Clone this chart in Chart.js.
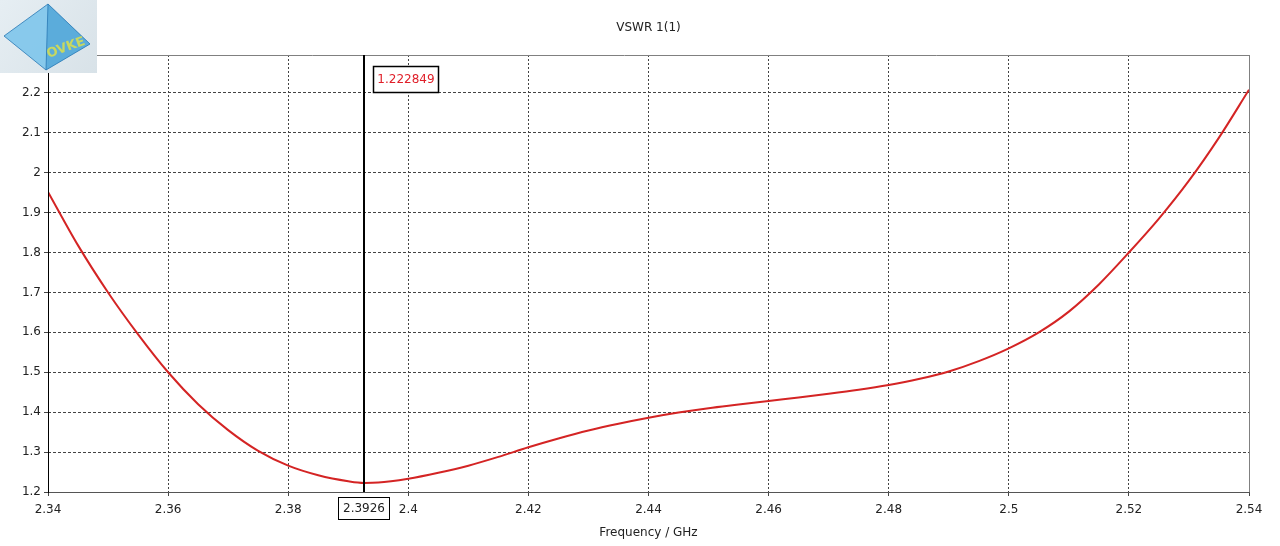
<!DOCTYPE html>
<html>
<head>
<meta charset="utf-8">
<script src="https://cdn.jsdelivr.net/npm/chart.js@4/dist/chart.umd.min.js"></script>
<style>
  html, body { margin: 0; padding: 0; background: #ffffff; }
  #wrap { width: 1280px; height: 546px; }
</style>
</head>
<body>
<div id="wrap"><canvas id="c" width="1280" height="546"></canvas></div>
<script>
// ---- data ----
const titleText = 'VSWR 1(1)';
const xAxisTitle = 'Frequency / GHz';
const freqGHz = [2.34, 2.345, 2.35, 2.355, 2.36, 2.365, 2.37, 2.375, 2.38, 2.385, 2.39, 2.3926, 2.395, 2.40, 2.405, 2.41, 2.415, 2.42, 2.425, 2.43, 2.435, 2.44, 2.445, 2.45, 2.455, 2.46, 2.465, 2.47, 2.475, 2.48, 2.485, 2.49, 2.495, 2.50, 2.505, 2.51, 2.515, 2.52, 2.525, 2.53, 2.535, 2.54];
const vswr = [1.952, 1.818, 1.700, 1.595, 1.500, 1.420, 1.355, 1.303, 1.266, 1.242, 1.227, 1.2228, 1.2235, 1.233, 1.248, 1.266, 1.288, 1.312, 1.334, 1.354, 1.371, 1.386, 1.399, 1.410, 1.419, 1.428, 1.437, 1.446, 1.456, 1.468, 1.483, 1.502, 1.528, 1.560, 1.600, 1.652, 1.720, 1.800, 1.885, 1.980, 2.088, 2.208];
const xTicks = [2.34, 2.36, 2.38, 2.40, 2.42, 2.44, 2.46, 2.48, 2.50, 2.52, 2.54];
const yTicks = [1.2, 1.3, 1.4, 1.5, 1.6, 1.7, 1.8, 1.9, 2.0, 2.1, 2.2];
const markerFreq = 2.3926;
const markerLabel = '2.3926';
const markerValueLabel = '1.222849';

const FONT = '"DejaVu Sans", "Liberation Sans", sans-serif';

const overlay = {
  id: 'overlay',
  afterDraw(chart) {
    const ctx = chart.ctx;
    const a = chart.chartArea;
    const xs = chart.scales.x;
    ctx.save();
    // frame
    ctx.lineWidth = 1;
    ctx.strokeStyle = '#808080';
    ctx.beginPath();
    ctx.moveTo(0, a.top + 0.5); ctx.lineTo(a.right, a.top + 0.5);
    ctx.moveTo(a.right + 0.5, a.top); ctx.lineTo(a.right + 0.5, a.bottom);
    ctx.stroke();
    ctx.strokeStyle = '#555555';
    ctx.beginPath();
    ctx.moveTo(a.left, a.bottom + 0.5); ctx.lineTo(a.right + 1, a.bottom + 0.5);
    ctx.stroke();
    ctx.strokeStyle = '#000000';
    ctx.beginPath();
    ctx.moveTo(a.left + 0.5, a.top); ctx.lineTo(a.left + 0.5, a.bottom + 1);
    ctx.stroke();

    // marker line
    const mx = Math.round(xs.getPixelForValue(markerFreq));
    ctx.strokeStyle = '#000000';
    ctx.lineWidth = 2;
    ctx.beginPath();
    ctx.moveTo(mx, a.top); ctx.lineTo(mx, a.bottom);
    ctx.stroke();

    // value box
    ctx.font = '12px ' + FONT;
    ctx.textBaseline = 'middle';
    ctx.textAlign = 'center';
    ctx.fillStyle = '#ffffff';
    ctx.fillRect(mx + 9, a.top + 11, 66, 27);
    ctx.lineWidth = 1.5;
    ctx.strokeStyle = '#000000';
    ctx.strokeRect(mx + 9.5, a.top + 11.5, 65, 26);
    ctx.fillStyle = '#e0202a';
    ctx.fillText(markerValueLabel, mx + 42, a.top + 25);

    // frequency box on axis
    ctx.fillStyle = '#ffffff';
    ctx.fillRect(mx - 26, a.bottom + 5, 52, 23);
    ctx.lineWidth = 1;
    ctx.strokeStyle = '#000000';
    ctx.strokeRect(mx - 25.5, a.bottom + 5.5, 51, 22);
    ctx.fillStyle = '#222222';
    ctx.fillText(markerLabel, mx, a.bottom + 17);

    // logo (approximation of watermark)
    const g = ctx.createLinearGradient(0, 0, 97, 73);
    g.addColorStop(0, '#e6eef3');
    g.addColorStop(1, '#d8e2e8');
    ctx.fillStyle = g;
    ctx.fillRect(0, 0, 97, 73);
    ctx.fillStyle = 'rgba(120,195,235,0.85)';
    ctx.beginPath();
    ctx.moveTo(48, 4); ctx.lineTo(4, 36); ctx.lineTo(46, 70); ctx.lineTo(90, 44); ctx.closePath();
    ctx.fill();
    ctx.fillStyle = 'rgba(80,165,215,0.8)';
    ctx.beginPath();
    ctx.moveTo(48, 4); ctx.lineTo(46, 70); ctx.lineTo(90, 44); ctx.closePath();
    ctx.fill();
    ctx.strokeStyle = 'rgba(40,120,180,0.8)';
    ctx.lineWidth = 1;
    ctx.beginPath();
    ctx.moveTo(48, 4); ctx.lineTo(4, 36); ctx.lineTo(46, 70); ctx.lineTo(90, 44); ctx.closePath();
    ctx.moveTo(48, 4); ctx.lineTo(46, 70);
    ctx.stroke();
    ctx.save();
    ctx.translate(66, 48);
    ctx.rotate(-0.35);
    ctx.font = 'bold 13px ' + FONT;
    ctx.fillStyle = '#c8d860';
    ctx.textAlign = 'center';
    ctx.fillText('OVKE', 0, 0);
    ctx.restore();
    ctx.restore();
  }
};

const points = freqGHz.map((f, i) => ({ x: f, y: vswr[i] }));

new Chart(document.getElementById('c'), {
  type: 'line',
  data: {
    datasets: [{
      data: points,
      borderColor: '#d42424',
      borderWidth: 2,
      pointRadius: 0,
      fill: false,
      cubicInterpolationMode: 'monotone'
    }]
  },
  options: {
    responsive: false,
    animation: false,
    devicePixelRatio: 1,
    layout: { padding: { left: 0, right: 31, top: 0, bottom: 0 } },
    plugins: {
      legend: { display: false },
      tooltip: { enabled: false },
      title: {
        display: true,
        text: titleText,
        fullSize: false,
        color: '#222222',
        font: { family: FONT, size: 12, weight: 'normal' },
        padding: { top: 21, bottom: 19.6 }
      }
    },
    scales: {
      x: {
        type: 'linear',
        min: 2.34,
        max: 2.54,
        afterFit(s) { s.height = 54; },
        afterBuildTicks(s) { s.ticks = xTicks.map(v => ({ value: v })); },
        ticks: {
          color: '#222222',
          font: { family: FONT, size: 12 },
          padding: 7,
          maxRotation: 0,
          autoSkip: false,
          callback: v => String(parseFloat(Number(v).toFixed(2)))
        },
        grid: { color: '#444444', lineWidth: 1, tickLength: 4, tickColor: '#444444', drawOnChartArea: true },
        border: { display: false, dash: [2, 2] },
        title: {
          display: true,
          text: xAxisTitle,
          color: '#222222',
          font: { family: FONT, size: 12 },
          padding: { top: 4, bottom: 6 }
        }
      },
      y: {
        type: 'linear',
        min: 1.2,
        max: 2.295,
        afterFit(s) { s.width = 48; },
        afterBuildTicks(s) { s.ticks = yTicks.map(v => ({ value: v })); },
        ticks: {
          color: '#222222',
          font: { family: FONT, size: 12 },
          padding: 3,
          autoSkip: false,
          callback: v => String(parseFloat(Number(v).toFixed(1)))
        },
        grid: { color: '#444444', lineWidth: 1, tickLength: 4, tickColor: '#444444' },
        border: { display: false, dash: [3, 2] }
      }
    }
  },
  plugins: [overlay]
});
</script>
</body>
</html>
